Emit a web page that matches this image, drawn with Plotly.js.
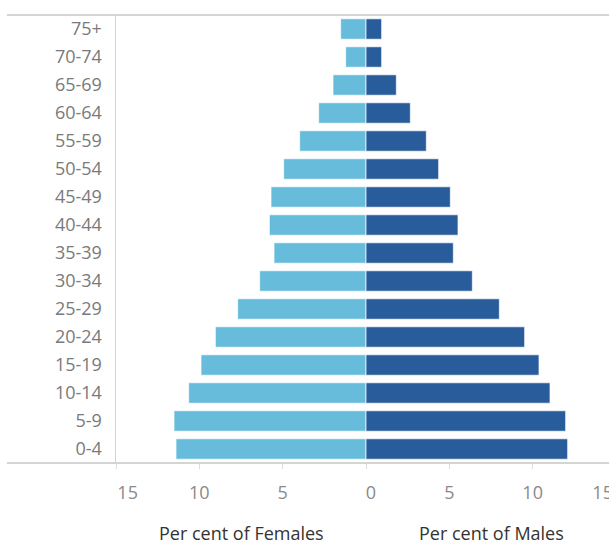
<!DOCTYPE html>
<html>
<head>
<meta charset="utf-8">
<script src="https://cdn.plot.ly/plotly-3.0.1.min.js"></script>
<style>
html, body { margin: 0; padding: 0; overflow: hidden; background: #fff; }
#chart { width: 640px; height: 546px; }
</style>
</head>
<body>
<div id="chart"></div>
<script>
const ageGroups = ["0-4","5-9","10-14","15-19","20-24","25-29","30-34","35-39","40-44","45-49","50-54","55-59","60-64","65-69","70-74","75+"];
const femalePct = [11.40, 11.52, 10.64, 9.90, 9.04, 7.70, 6.38, 5.52, 5.80, 5.70, 4.94, 3.98, 2.84, 1.98, 1.22, 1.52];
const malePct   = [12.10, 11.98, 11.04, 10.38, 9.52, 8.00, 6.38, 5.24, 5.52, 5.06, 4.36, 3.62, 2.66, 1.82, 0.94, 0.94];
const tickText = ["15","10","5","0","5","10","15"];
const tickValues = [-15,-10,-5,0,5,10,15];

const fontFam = "'Open Sans', Lato, sans-serif";

const traces = [
  {
    type: "bar", orientation: "h", name: "Females",
    y: ageGroups, x: femalePct.map(v => -v),
    marker: { color: "#67bbdb", line: { color: "rgba(255,255,255,0.7)", width: 1 } },
    hoverinfo: "skip"
  },
  {
    type: "bar", orientation: "h", name: "Males",
    y: ageGroups, x: malePct,
    marker: { color: "#295c9a", line: { color: "rgba(255,255,255,0.7)", width: 1 } },
    hoverinfo: "skip"
  },
  {
    type: "scatter", mode: "markers", x: [0], y: [ageGroups[0]], xaxis: "x2",
    marker: { opacity: 0 }, hoverinfo: "skip", showlegend: false
  }
];

const layout = {
  width: 640, height: 546,
  margin: { l: 116, r: 24, t: 15, b: 83 },
  paper_bgcolor: "#ffffff", plot_bgcolor: "#ffffff",
  showlegend: false,
  barmode: "overlay",
  bargap: 0.27,
  font: { family: fontFam, color: "#7a7a7a", size: 18 },
  xaxis: {
    range: [-15, 15], fixedrange: true,
    tickvals: tickValues, showticklabels: false,
    ticks: "outside", ticklen: 5, tickcolor: "#dcdcdc", tickwidth: 1,
    showgrid: false, zeroline: false, showline: false
  },
  xaxis2: {
    overlaying: "x", anchor: "y", side: "bottom",
    range: [-15, 15], fixedrange: true,
    tickvals: [-14.3, -10, -5, 0.3, 5, 10, 14.2], ticktext: tickText,
    ticks: "outside", ticklen: 13, tickcolor: "rgba(0,0,0,0)",
    tickfont: { size: 18, color: "#8a8a8a" },
    showgrid: false, zeroline: false, showline: false
  },
  yaxis: {
    type: "category", categoryorder: "array", categoryarray: ageGroups,
    range: [-0.5, 15.5], fixedrange: true,
    showline: true, linecolor: "#d4d4d4", linewidth: 1.5,
    showgrid: false, zeroline: false,
    ticks: "outside", ticklen: 9, tickcolor: "rgba(0,0,0,0)",
    tickfont: { size: 18, color: "#7a7a7a" }
  },
  shapes: [
    { type: "line", xref: "paper", yref: "paper", x0: -0.218, x1: 1.05, y0: 1, y1: 1,
      line: { color: "#d4d4d4", width: 2 } },
    { type: "line", xref: "paper", yref: "paper", x0: -0.218, x1: 1.05, y0: 0, y1: 0,
      line: { color: "#d4d4d4", width: 2 } }
  ],
  annotations: [
    { text: "Per cent of Females", xref: "paper", yref: "paper", x: 0.25, y: -0.156,
      xanchor: "center", yanchor: "middle", showarrow: false,
      font: { size: 18, color: "#333333", family: fontFam } },
    { text: "Per cent of Males", xref: "paper", yref: "paper", x: 0.75, y: -0.156,
      xanchor: "center", yanchor: "middle", showarrow: false,
      font: { size: 18, color: "#333333", family: fontFam } }
  ]
};

Plotly.newPlot("chart", traces, layout, { displayModeBar: false, staticPlot: true });
</script>
</body>
</html>
